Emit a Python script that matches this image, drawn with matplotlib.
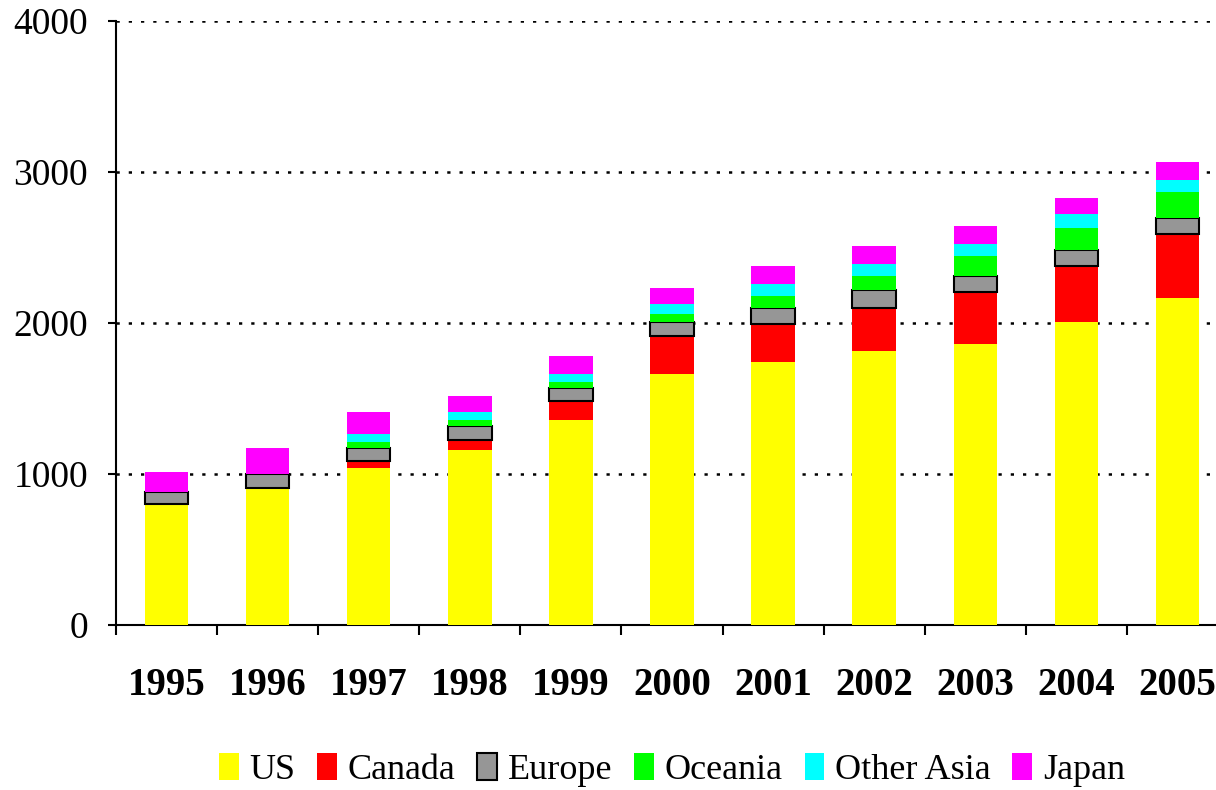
import matplotlib
matplotlib.use("Agg")
import matplotlib.pyplot as plt
import numpy as np
from matplotlib.ticker import FixedLocator

years = ["1995", "1996", "1997", "1998", "1999", "2000", "2001", "2002", "2003", "2004", "2005"]
us = [800, 910, 1040, 1160, 1358, 1662, 1742, 1812, 1863, 2007, 2168]
canada = [0, 0, 44, 67, 123, 254, 254, 290, 344, 372, 423]
europe = [83, 92, 90, 93, 91, 91, 106, 119, 106, 106, 106]
oceania = [0, 0, 40, 40, 39, 55, 79, 92, 133, 146, 173]
other_asia = [0, 0, 53, 53, 53, 66, 79, 80, 79, 93, 79]
japan = [130, 170, 144, 104, 119, 104, 117, 117, 117, 104, 117]

series = [("US", us, "#FFFF00"), ("Canada", canada, "#FF0000"), ("Europe", europe, "#969696"),
          ("Oceania", oceania, "#00FF00"), ("Other Asia", other_asia, "#00FFFF"), ("Japan", japan, "#FF00FF")]

plt.rcParams['font.family'] = ['Liberation Serif', 'DejaVu Serif']

fig = plt.figure(figsize=(12.16, 7.90), dpi=100)
ax = fig.add_axes([116/1216, 165/790, 1112/1216, 604/790])

x = np.arange(len(years))
bottom = np.zeros(len(years))
for name, vals, col in series:
    vals = np.array(vals, dtype=float)
    if name == "Europe":
        ax.bar(x, vals, 0.43, bottom=bottom, color=col, edgecolor="black", linewidth=1.5, label=name, zorder=3)
    else:
        ax.bar(x, vals, 0.43, bottom=bottom, color=col, linewidth=0, label=name, zorder=3)
    bottom += vals

ax.set_xlim(-0.5, len(years) - 0.5)
ax.set_ylim(0, 4000)
ax.set_yticks([0, 1000, 2000, 3000, 4000])
ax.set_yticklabels(["0", "1000", "2000", "3000", "4000"], fontsize=27)
ax.set_xticks(x)
ax.set_xticklabels(years, fontsize=28, fontweight="bold")
ax.xaxis.set_minor_locator(FixedLocator(np.arange(-0.5, len(years), 1.0)))
ax.tick_params(axis="x", which="major", length=0, pad=30)
ax.tick_params(axis="x", which="minor", length=7, width=1.5, direction="out")
ax.tick_params(axis="y", which="major", length=6, width=1.5, direction="out", pad=14)

for v in [1000, 2000, 3000, 4000]:
    ax.axhline(v, color="black", linewidth=1.8, linestyle=(0, (1.3, 3.6)), zorder=1)

for s in ["top", "right"]:
    ax.spines[s].set_visible(False)
for s in ["left", "bottom"]:
    ax.spines[s].set_linewidth(1.5)

leg = ax.legend(loc="center", bbox_to_anchor=(0.5, -0.24), ncol=6, frameon=False,
                fontsize=26, handlelength=0.55, handleheight=0.8, handletextpad=0.3,
                columnspacing=0.6)

fig.savefig("out.png", dpi=100)
